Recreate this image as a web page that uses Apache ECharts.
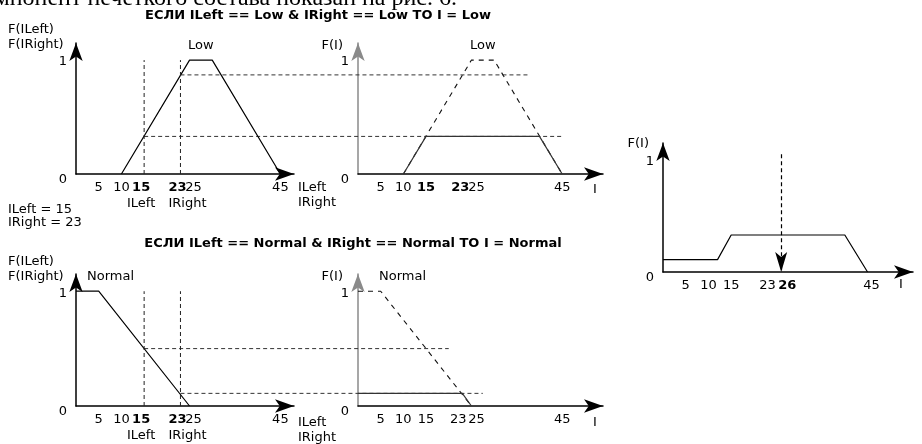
<!DOCTYPE html>
<html><head><meta charset="utf-8">
<script src="https://cdn.jsdelivr.net/npm/echarts@6/dist/echarts.min.js"></script>
<style>html,body{margin:0;padding:0;background:#fff}#c{width:922px;height:444px}</style>
</head><body><div id="c"></div>
<script>
// ---- data ----
const lowMF = [[10,0],[25,1],[30,1],[45,0]];
const normalMF = [[0,1],[5,1],[25,0]];
const inputLeft = 15, inputRight = 23;
const lowDegrees = [0.33, 0.87];      // Low(ILeft), Low(IRight)
const normalDegrees = [0.5, 0.11];    // Normal(ILeft), Normal(IRight)
const lowClipped = [[10,0],[15,0.33],[40,0.33],[45,0]];
const normalClipped = [[0,0.11],[23,0.11],[25,0]];
const aggregate = [[0,0.11],[12,0.11],[15,0.33],[40,0.33],[45,0]];
const crispValue = 26;
const crispArrowTop = 1.05;
const inputTicks = [5,10,15,23,25,45];
const outputTicks = [5,10,15,23,26,45];
const yTicks = [0,1];
const lowGuideEnds = [45, 38];     // ends of guides (ILeft, IRight) in output panel
const normalGuideEnds = [20, 27.5];
const title1 = 'ЕСЛИ ILeft == Low & IRight == Low TO I = Low';
const title2 = 'ЕСЛИ ILeft == Normal & IRight == Normal TO I = Normal';
const paragraph = 'компонент нечеткого состава показан на рис. 6.';

// ---- chart ----
const FONT = 'DejaVu Sans';
const grids = [
  {left:76, top:43, width:218, height:131},
  {left:358, top:43, width:245, height:131},
  {left:76, top:274, width:218, height:132},
  {left:358, top:274, width:245, height:132},
  {left:663, top:143, width:250, height:129}
];
const xMax = [48, 54, 48, 54, 55];

function xLabel(values, boldVals, subs, shifts){
  const rich = {};
  const pad = s => s >= 0 ? [0,0,0,2*s] : [0,-2*s,0,0];
  values.forEach(v => {
    rich['t'+v] = {fontFamily:FONT, fontSize:13, color:'#000', fontWeight: boldVals.includes(v)?'bold':'normal', lineHeight:16, padding: pad(shifts[v]||0)};
    if (subs[v]) rich['s'+v] = {fontFamily:FONT, fontSize:13, color:'#000', lineHeight:15, padding: pad(subs[v][1])};
  });
  return {customValues: values, margin:6, rich,
    formatter: v => { let t = '{t'+v+'|'+v+'}'; if (subs[v]) t += '\n{s'+v+'|'+subs[v][0]+'}'; return t; }};
}
function xAxis(gi, label){
  return {type:'value', gridIndex:gi, min:0, max:xMax[gi], splitLine:{show:false}, axisTick:{show:false},
    axisLine:{show:true, onZero:false, symbol:['none','arrow'], symbolSize:[10,19], lineStyle:{color:'#000', width:1.5}},
    axisLabel: label};
}
function yAxis(gi, color){
  return {type:'value', gridIndex:gi, min:0, max:1.15, splitLine:{show:false}, axisTick:{show:false},
    axisLine:{show:true, onZero:false, symbol:['none','arrow'], symbolSize:[10,18], lineStyle:{color:color, width:1.5}},
    axisLabel:{customValues: yTicks, margin:9, formatter: v => v === 0 ? '{z|0}' : '{o|1}',
      rich:{z:{fontFamily:FONT, fontSize:13, color:'#000', padding:[12,0,0,0]}, o:{fontFamily:FONT, fontSize:13, color:'#000', padding:[4,0,0,0]}}}};
}
const leftSubs = {15:['ILeft',-3], 23:['IRight',7]};
const xAxes = [
  xAxis(0, xLabel(inputTicks, [15,23], leftSubs, {15:-3, 23:-3, 25:4})),
  xAxis(1, xLabel(inputTicks, [15,23], {}, {23:-2, 25:5})),
  xAxis(2, xLabel(inputTicks, [15,23], leftSubs, {15:-3, 23:-3, 25:4})),
  xAxis(3, xLabel(inputTicks, [], {}, {23:-4, 25:5})),
  xAxis(4, xLabel(outputTicks, [26], {}, {26:6, 45:4}))
];
const yAxes = [yAxis(0,'#000'), yAxis(1,'#8a8a8a'), yAxis(2,'#000'), yAxis(3,'#8a8a8a'), yAxis(4,'#000')];

const solid = {color:'#000', width:1.2};
const dashedShape = {color:'#111', width:1.1, type:[5,5]};
const dashedGuide = {color:'#222', width:1, type:[4,3]};
function line(gi, data, style){
  return {type:'line', xAxisIndex:gi, yAxisIndex:gi, data, symbol:'none', silent:true, lineStyle:style, z:3};
}
const series = [
  line(0, lowMF, solid),
  line(0, [[inputLeft,0],[inputLeft,1]], dashedGuide),
  line(0, [[inputRight,0],[inputRight,1]], dashedGuide),
  line(1, lowMF, dashedShape),
  line(1, lowClipped, {color:'#333', width:1.2}),
  line(2, normalMF, solid),
  line(2, [[inputLeft,0],[inputLeft,1]], dashedGuide),
  line(2, [[inputRight,0],[inputRight,1]], dashedGuide),
  line(3, normalMF, dashedShape),
  line(3, normalClipped, {color:'#333', width:1.2}),
  Object.assign(line(4, aggregate, solid), {markLine:{silent:true, symbol:['none','arrow'], symbolSize:[9,20],
    label:{show:false}, lineStyle:{type:[4,3], color:'#000', width:1.2},
    data:[[{coord:[crispValue, crispArrowTop]},{coord:[crispValue,0]}]]}})
];

const chart = echarts.init(document.getElementById('c'), null, {renderer:'canvas'});
chart.setOption({animation:false, grid:grids, xAxis:xAxes, yAxis:yAxes, series});

const px = (gi, p) => chart.convertToPixel({gridIndex:gi}, p);
const g = [];
function guide(giA, xA, giB, xB, y){
  const a = px(giA, [xA, y]), b = px(giB, [xB, y]);
  g.push({type:'line', silent:true, z:2, shape:{x1:a[0], y1:a[1], x2:b[0], y2:b[1]}, style:{stroke:'#333', lineWidth:1, lineDash:[4,3]}});
}
guide(0, inputLeft, 1, lowGuideEnds[0], lowDegrees[0]);
guide(0, inputRight, 1, lowGuideEnds[1], lowDegrees[1]);
guide(2, inputLeft, 3, normalGuideEnds[0], normalDegrees[0]);
guide(2, inputRight, 3, normalGuideEnds[1], normalDegrees[1]);

function txt(x, y, text, opt){
  g.push({type:'text', silent:true, x, y, style:Object.assign({text, fill:'#000', font:'13px "DejaVu Sans"', align:'left', verticalAlign:'middle'}, opt||{})});
}
txt(457, -1, paragraph, {font:'24px "Liberation Serif"', align:'right'});
txt(318, 16, title1, {font:'bold 13px "DejaVu Sans"', align:'center'});
txt(353, 244, title2, {font:'bold 13px "DejaVu Sans"', align:'center'});
txt(8, 30, 'F(ILeft)'); txt(8, 45, 'F(IRight)');
txt(8, 262, 'F(ILeft)'); txt(8, 277, 'F(IRight)');
txt(8, 210, 'ILeft = ' + inputLeft); txt(8, 223, 'IRight = ' + inputRight);
txt(343, 46, 'F(I)', {align:'right'});
txt(343, 277, 'F(I)', {align:'right'});
txt(649, 144, 'F(I)', {align:'right'});
const lowTop = px(0, [27.5, 1]); txt(lowTop[0], 46, 'Low', {align:'center'});
const lowTop2 = px(1, [27.5, 1]); txt(lowTop2[0], 46, 'Low', {align:'center'});
txt(87, 277, 'Normal'); txt(379, 277, 'Normal');
txt(298, 188, 'ILeft'); txt(298, 203, 'IRight');
txt(298, 423, 'ILeft'); txt(298, 438, 'IRight');
txt(593, 190, 'I'); txt(593, 423, 'I'); txt(899, 285, 'I');
chart.setOption({graphic: g});
</script></body></html>
